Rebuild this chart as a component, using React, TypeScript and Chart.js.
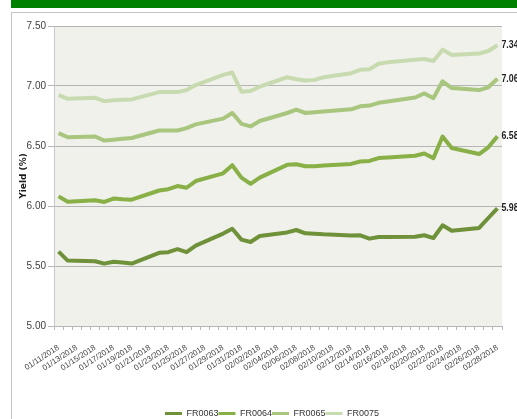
import React, { useEffect, useRef } from 'react';
import { Chart, registerables } from 'chart.js';

Chart.register(...registerables);

const dates = [
  '01/11/2018', '01/12/2018', '01/13/2018', '01/14/2018', '01/15/2018', '01/16/2018', '01/17/2018',
  '01/18/2018', '01/19/2018', '01/20/2018', '01/21/2018', '01/22/2018', '01/23/2018', '01/24/2018',
  '01/25/2018', '01/26/2018', '01/27/2018', '01/28/2018', '01/29/2018', '01/30/2018', '01/31/2018',
  '02/01/2018', '02/02/2018', '02/03/2018', '02/04/2018', '02/05/2018', '02/06/2018', '02/07/2018',
  '02/08/2018', '02/09/2018', '02/10/2018', '02/11/2018', '02/12/2018', '02/13/2018', '02/14/2018',
  '02/15/2018', '02/16/2018', '02/17/2018', '02/18/2018', '02/19/2018', '02/20/2018', '02/21/2018',
  '02/22/2018', '02/23/2018', '02/24/2018', '02/25/2018', '02/26/2018', '02/27/2018', '02/28/2018',
];

const seriesNames = ['FR0063', 'FR0064', 'FR0065', 'FR0075'];

// null = weekend (no quote), line spans over it
const fr0063 = [
  5.62, 5.545, null, null, 5.54, 5.52, 5.535,
  5.53, 5.52, null, null, 5.61, 5.615, 5.64,
  5.615, 5.67, null, null, 5.77, 5.81, 5.72,
  5.70, 5.75, null, null, 5.78, 5.80, 5.772,
  5.769, 5.764, null, null, 5.755, 5.756, 5.728,
  5.742, 5.742, null, null, 5.744, 5.756, 5.733,
  5.839, 5.794, null, null, 5.817, 5.90, 5.98,
];
const fr0064 = [
  6.08, 6.035, null, null, 6.048, 6.034, 6.062,
  6.056, 6.053, null, null, 6.129, 6.14, 6.166,
  6.152, 6.208, null, null, 6.272, 6.34, 6.236,
  6.185, 6.236, null, null, 6.343, 6.348, 6.331,
  6.331, 6.337, null, null, 6.351, 6.371, 6.376,
  6.399, 6.404, null, null, 6.419, 6.438, 6.399,
  6.579, 6.483, null, null, 6.433, 6.489, 6.58,
];
const fr0065 = [
  6.607, 6.573, null, null, 6.579, 6.545, 6.553,
  6.56, 6.567, null, null, 6.629, 6.629, 6.629,
  6.649, 6.68, null, null, 6.728, 6.775, 6.685,
  6.663, 6.708, null, null, 6.775, 6.803, 6.775,
  6.781, 6.787, null, null, 6.806, 6.831, 6.837,
  6.86, 6.871, null, null, 6.904, 6.938, 6.899,
  7.039, 6.983, null, null, 6.966, 6.989, 7.06,
];
const fr0075 = [
  6.924, 6.893, null, null, 6.902, 6.874, 6.882,
  6.886, 6.888, null, null, 6.949, 6.949, 6.949,
  6.966, 7.008, null, null, 7.093, 7.112, 6.952,
  6.958, 6.994, null, null, 7.073, 7.056, 7.045,
  7.051, 7.073, null, null, 7.107, 7.135, 7.14,
  7.185, 7.197, null, null, 7.219, 7.225, 7.208,
  7.303, 7.258, null, null, 7.27, 7.292, 7.34,
];

const seriesValues = [fr0063, fr0064, fr0065, fr0075];
const seriesColors = ['#6f9139', '#88b047', '#a8c67d', '#c8dbb0'];

const yMin = 5.0;
const yMax = 7.5;
const yStep = 0.5;
const yTitle = 'Yield (%)';

const FONT = "'Liberation Sans', Arial, sans-serif";

const plotBg = {
  id: 'plotBg',
  beforeDraw(chart: any) {
    const { ctx, chartArea } = chart;
    ctx.save();
    ctx.fillStyle = '#eff1ea';
    ctx.fillRect(chartArea.left, chartArea.top, chartArea.right - chartArea.left, chartArea.bottom - chartArea.top);
    ctx.restore();
  },
};

// nudge the legend to where the original sits (a bit right and lower)
const legendShift = {
  id: 'legendShift',
  afterLayout(chart: any) {
    const lg = chart.legend;
    if (!lg) return;
    lg.left += 15;
    lg.right += 15;
    lg.top += 9;
    lg.bottom += 9;
  },
};

const yTitlePlugin = {
  id: 'yTitlePlugin',
  afterDraw(chart: any) {
    const { ctx, chartArea } = chart;
    ctx.save();
    ctx.translate(24, (chartArea.top + chartArea.bottom) / 2);
    ctx.rotate(-Math.PI / 2);
    ctx.font = "bold 9px 'DejaVu Sans', sans-serif";
    ctx.fillStyle = '#1a1a1a';
    ctx.textAlign = 'center';
    ctx.textBaseline = 'middle';
    ctx.fillText(yTitle, 0, 0);
    ctx.restore();
  },
};

const endLabels = {
  id: 'endLabels',
  afterDatasetsDraw(chart: any) {
    const { ctx } = chart;
    chart.data.datasets.forEach((ds: any, i: number) => {
      const meta = chart.getDatasetMeta(i);
      const last = ds.data.length - 1;
      const pt = meta.data[last];
      if (!pt) return;
      ctx.save();
      ctx.translate(pt.x + 4, pt.y);
      ctx.scale(0.8, 1);
      ctx.font = `bold 11px ${FONT}`;
      ctx.fillStyle = '#222';
      ctx.textBaseline = 'middle';
      ctx.textAlign = 'left';
      ctx.fillText(Number(ds.data[last]).toFixed(2), 0, 0);
      ctx.restore();
    });
  },
};

export default function App() {
  const ref = useRef<HTMLCanvasElement | null>(null);

  useEffect(() => {
    if (!ref.current) return;
    const chart = new Chart(ref.current, {
      type: 'line',
      data: {
        labels: dates,
        datasets: seriesNames.map((name, i) => ({
          label: name,
          data: seriesValues[i],
          borderColor: seriesColors[i],
          backgroundColor: seriesColors[i],
          borderWidth: 4,
          pointRadius: 0,
          tension: 0,
          spanGaps: true,
          borderJoinStyle: 'round' as const,
        })),
      },
      options: {
        responsive: false,
        animation: false,
        devicePixelRatio: 1,
        layout: { padding: { left: 12, top: 26, right: 15, bottom: 0 } },
        plugins: {
          tooltip: { enabled: false },
          legend: {
            position: 'bottom',
            labels: {
              boxWidth: 17,
              boxHeight: 3,
              padding: 0,
              color: '#333',
              font: { family: FONT, size: 9 },
              generateLabels: (c: any) =>
                Chart.defaults.plugins.legend.labels.generateLabels(c).map((l: any) => ({ ...l, lineWidth: 0 })),
            },
          },
        },
        scales: {
          x: {
            type: 'category',
            offset: true,
            afterFit: (s: any) => { s.height = 74; },
            grid: { display: true, offset: true, drawOnChartArea: false, color: '#b8b8b8', tickLength: 4 },
            border: { display: false },
            ticks: {
              autoSkip: false,
              maxRotation: 33,
              minRotation: 33,
              padding: 13,
              color: '#404040',
              font: { family: FONT, size: 8 },
              callback: (_v: any, idx: number) => (idx % 2 === 0 ? dates[idx] : ''),
            },
          },
          y: {
            min: yMin,
            max: yMax,
            afterFit: (s: any) => { s.width = 42; },
            grid: { color: '#b5b5b5', tickLength: 6 },
            border: { display: true, color: '#c8c8c8' },
            ticks: {
              stepSize: yStep,
              padding: 2,
              color: '#404040',
              font: { family: FONT, size: 10 },
              callback: (v: any) => Number(v).toFixed(2),
            },
          },
        },
      },
      plugins: [plotBg, legendShift, endLabels, yTitlePlugin],
    });
    return () => chart.destroy();
  }, []);

  return (
    <div style={{ position: 'fixed', left: 0, top: 0, width: 517, height: 419, background: '#fff', overflow: 'hidden' }}>
      <div style={{ position: 'absolute', left: 11, top: 0, right: 0, height: 8, background: '#008000' }} />
      <div style={{ position: 'absolute', left: 11, top: 12, right: -2, bottom: -2, borderTop: '1px solid #c4c4c4', borderLeft: '1px solid #c4c4c4' }} />
      <canvas ref={ref} width={517} height={419} style={{ position: 'absolute', left: 0, top: 0, width: 517, height: 419 }} />
    </div>
  );
}
